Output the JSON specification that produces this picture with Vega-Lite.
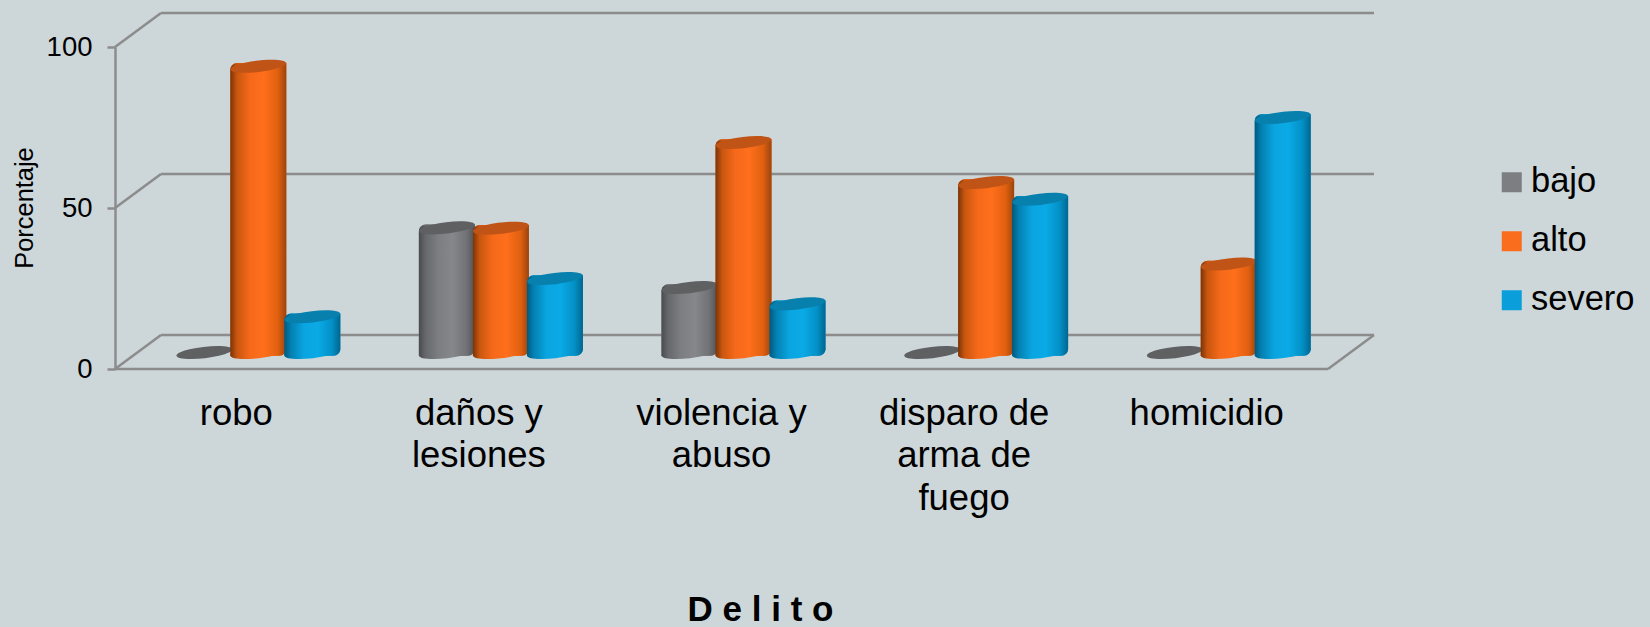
{
"$schema":"https://vega.github.io/schema/vega-lite/v6.json",
"width":1213,"height":322,"autosize":"none",
"padding":{"left":115,"top":47,"right":322,"bottom":258},
"background":"#CDD6D9",
"config":{"view":{"stroke":null},"font":"Liberation Sans"},
"datasets":{
"valores":[
{"delito":"robo","nivel":"bajo","valor":0},{"delito":"robo","nivel":"alto","valor":88.9},{"delito":"robo","nivel":"severo","valor":11.1},
{"delito":"daños y lesiones","nivel":"bajo","valor":38.7},{"delito":"daños y lesiones","nivel":"alto","valor":38.6},{"delito":"daños y lesiones","nivel":"severo","valor":23},
{"delito":"violencia y abuso","nivel":"bajo","valor":20.2},{"delito":"violencia y abuso","nivel":"alto","valor":65.2},{"delito":"violencia y abuso","nivel":"severo","valor":15.1},
{"delito":"disparo de arma de fuego","nivel":"bajo","valor":0},{"delito":"disparo de arma de fuego","nivel":"alto","valor":52.8},{"delito":"disparo de arma de fuego","nivel":"severo","valor":47.6},
{"delito":"homicidio","nivel":"bajo","valor":0},{"delito":"homicidio","nivel":"alto","valor":27.5},{"delito":"homicidio","nivel":"severo","valor":73}
],
"marcas":[{"marca":0},{"marca":50},{"marca":100}]
},
"layer":[
{"data":{"name":"valores"},"transform":[{"filter":"datum.valor>0"}],
 "mark":{"type":"bar","size":56,"yOffset":-19.8,"y2Offset":-13.2,"cornerRadiusTopLeft":7,"cornerRadiusBottomRight":7},
 "encoding":{
  "x":{"field":"delito","type":"nominal","sort":null,"scale":{"domain":["robo","daños y lesiones","violencia y abuso","disparo de arma de fuego","homicidio"],"range":[22,1235],"paddingInner":0.332,"paddingOuter":0.166},
   "axis":{"title":"D e l i t o","titleFontSize":35,"titleFontWeight":"bold","titleColor":"#000","titleX":645,"titleY":251,"titleBaseline":"alphabetic","titleAlign":"center","titleAnchor":null,
    "domain":false,"ticks":false,"labelAngle":0,"labelOffset":-22,"labelFontSize":36.5,"labelColor":"#000","labelPadding":55,"labelLineHeight":42.7,"labelBaseline":"alphabetic","labelLimit":0,"labelOverlap":false,"labelFlush":false,
    "labelExpr":"datum.label=='daños y lesiones'?['daños y','lesiones']:datum.label=='violencia y abuso'?['violencia y','abuso']:datum.label=='disparo de arma de fuego'?['disparo de','arma de','fuego']:datum.label"}},
  "xOffset":{"field":"nivel","type":"nominal","sort":null,"scale":{"domain":["bajo","alto","severo"],"paddingInner":0,"paddingOuter":0}},
  "y":{"field":"valor","type":"quantitative","stack":null,"scale":{"domain":[0,100],"nice":false},
   "axis":{"title":"Porcentaje","titleFontSize":25.4,"titleFontWeight":"normal","titleColor":"#000","titleX":-83,"titleY":160.5,"titleAngle":-90,"titleAlign":"center","titleBaseline":"alphabetic","values":[0,50,100],"grid":false,
    "domainColor":"#8C8C8C","domainWidth":2.5,"tickColor":"#8C8C8C","tickWidth":2.5,"tickSize":8,"labelFontSize":27.5,"labelColor":"#000","labelPadding":15}},
  "y2":{"datum":0},
  "color":{"field":"nivel","type":"nominal","sort":null,"scale":{"domain":["bajo","alto","severo"],"range":["#7C7E82","#F96D1C","#0A9FDB"]},
   "legend":{"title":null,"orient":"none","legendX":1379.5,"legendY":118,"symbolType":"square","symbolSize":400,"symbolStrokeWidth":0,"labelFontSize":34.5,"labelColor":"#000","labelOffset":2,"rowPadding":24,"labelLimit":0}}
 }},
{"data":{"name":"marcas"},"mark":{"type":"rule","color":"#8C8C8C","strokeWidth":2.5,"yOffset":-34},
 "encoding":{"y":{"field":"marca","type":"quantitative"},"x":{"value":46},"x2":{"value":1259}}},
{"data":{"name":"marcas"},"mark":{"type":"rule","color":"#8C8C8C","strokeWidth":2.5,"y2Offset":-34},
 "encoding":{"y":{"field":"marca","type":"quantitative"},"y2":{"field":"marca"},"x":{"value":0},"x2":{"value":46}}},
{"data":{"name":"marcas"},"transform":[{"filter":"datum.marca==0"}],"mark":{"type":"rule","color":"#8C8C8C","strokeWidth":2.5,"y2Offset":-34},
 "encoding":{"y":{"field":"marca","type":"quantitative"},"y2":{"field":"marca"},"x":{"value":1213},"x2":{"value":1259}}},
{"data":{"name":"marcas"},"transform":[{"filter":"datum.marca==0"}],"mark":{"type":"rule","color":"#8C8C8C","strokeWidth":2.5},
 "encoding":{"y":{"field":"marca","type":"quantitative"},"x":{"value":0},"x2":{"value":1213}}},
{"data":{"name":"valores"},"transform":[{"filter":"datum.nivel=='bajo'"}],
 "layer":[
  {"transform":[{"filter":"datum.valor>0"}],"mark":{"type":"point","filled":true,"opacity":1,"strokeWidth":0,"size":3136,"yOffset":-16.5,"shape":"M-0.993 0.117A1 0.2 -6.7 1 1 0.993 -0.117A1 0.2 -6.7 1 1 -0.993 0.117Z","color":{"gradient":"linear","x1":0,"x2":1,"y1":0,"y2":0,"stops":[{"offset":0,"color":"#4A4B4D"},{"offset":0.12,"color":"#67686B"},{"offset":0.35,"color":"#7C7E81"},{"offset":0.6,"color":"#85878A"},{"offset":0.85,"color":"#717275"},{"offset":1,"color":"#525355"}]}},
   "encoding":{"x":{"field":"delito","type":"nominal","sort":null},"xOffset":{"field":"nivel","type":"nominal","sort":null},"y":{"datum":0,"type":"quantitative"}}},
  {"transform":[{"filter":"datum.valor>0"}],"mark":{"type":"bar","size":56,"yOffset":-19.8,"y2Offset":-13.2,"cornerRadiusTopLeft":7,"cornerRadiusBottomRight":7,"color":{"gradient":"linear","x1":0,"x2":1,"y1":0,"y2":0,"stops":[{"offset":0,"color":"#4A4B4D"},{"offset":0.12,"color":"#67686B"},{"offset":0.35,"color":"#7C7E81"},{"offset":0.6,"color":"#85878A"},{"offset":0.85,"color":"#717275"},{"offset":1,"color":"#525355"}]}},
   "encoding":{"x":{"field":"delito","type":"nominal","sort":null},"xOffset":{"field":"nivel","type":"nominal","sort":null},"y":{"field":"valor","type":"quantitative","stack":null},"y2":{"datum":0}}},
  {"mark":{"type":"point","filled":true,"opacity":1,"strokeWidth":0,"size":3136,"yOffset":-16.5,"color":"#5F6062","shape":"M-0.993 0.117A1 0.2 -6.7 1 1 0.993 -0.117A1 0.2 -6.7 1 1 -0.993 0.117Z"},
   "encoding":{"x":{"field":"delito","type":"nominal","sort":null},"xOffset":{"field":"nivel","type":"nominal","sort":null},"y":{"field":"valor","type":"quantitative"}}}
 ]},
{"data":{"name":"valores"},"transform":[{"filter":"datum.nivel=='alto'"}],
 "layer":[
  {"mark":{"type":"point","filled":true,"opacity":1,"strokeWidth":0,"size":3136,"yOffset":-16.5,"shape":"M-0.993 0.117A1 0.2 -6.7 1 1 0.993 -0.117A1 0.2 -6.7 1 1 -0.993 0.117Z","color":{"gradient":"linear","x1":0,"x2":1,"y1":0,"y2":0,"stops":[{"offset":0,"color":"#7A3408"},{"offset":0.12,"color":"#C9560F"},{"offset":0.35,"color":"#F5691A"},{"offset":0.6,"color":"#FF6F1C"},{"offset":0.85,"color":"#E0600F"},{"offset":1,"color":"#9A440E"}]}},
   "encoding":{"x":{"field":"delito","type":"nominal","sort":null},"xOffset":{"field":"nivel","type":"nominal","sort":null},"y":{"datum":0,"type":"quantitative"}}},
  {"mark":{"type":"bar","size":56,"yOffset":-19.8,"y2Offset":-13.2,"cornerRadiusTopLeft":7,"cornerRadiusBottomRight":7,"color":{"gradient":"linear","x1":0,"x2":1,"y1":0,"y2":0,"stops":[{"offset":0,"color":"#7A3408"},{"offset":0.12,"color":"#C9560F"},{"offset":0.35,"color":"#F5691A"},{"offset":0.6,"color":"#FF6F1C"},{"offset":0.85,"color":"#E0600F"},{"offset":1,"color":"#9A440E"}]}},
   "encoding":{"x":{"field":"delito","type":"nominal","sort":null},"xOffset":{"field":"nivel","type":"nominal","sort":null},"y":{"field":"valor","type":"quantitative","stack":null},"y2":{"datum":0}}},
  {"mark":{"type":"point","filled":true,"opacity":1,"strokeWidth":0,"size":3136,"yOffset":-16.5,"color":"#C05417","shape":"M-0.993 0.117A1 0.2 -6.7 1 1 0.993 -0.117A1 0.2 -6.7 1 1 -0.993 0.117Z"},
   "encoding":{"x":{"field":"delito","type":"nominal","sort":null},"xOffset":{"field":"nivel","type":"nominal","sort":null},"y":{"field":"valor","type":"quantitative"}}}
 ]},
{"data":{"name":"valores"},"transform":[{"filter":"datum.nivel=='severo'"}],
 "layer":[
  {"mark":{"type":"point","filled":true,"opacity":1,"strokeWidth":0,"size":3136,"yOffset":-16.5,"shape":"M-0.993 0.117A1 0.2 -6.7 1 1 0.993 -0.117A1 0.2 -6.7 1 1 -0.993 0.117Z","color":{"gradient":"linear","x1":0,"x2":1,"y1":0,"y2":0,"stops":[{"offset":0,"color":"#00597F"},{"offset":0.12,"color":"#0380B2"},{"offset":0.35,"color":"#0AA5E0"},{"offset":0.6,"color":"#0AAAE6"},{"offset":0.85,"color":"#0390C6"},{"offset":1,"color":"#00668F"}]}},
   "encoding":{"x":{"field":"delito","type":"nominal","sort":null},"xOffset":{"field":"nivel","type":"nominal","sort":null},"y":{"datum":0,"type":"quantitative"}}},
  {"mark":{"type":"bar","size":56,"yOffset":-19.8,"y2Offset":-13.2,"cornerRadiusTopLeft":7,"cornerRadiusBottomRight":7,"color":{"gradient":"linear","x1":0,"x2":1,"y1":0,"y2":0,"stops":[{"offset":0,"color":"#00597F"},{"offset":0.12,"color":"#0380B2"},{"offset":0.35,"color":"#0AA5E0"},{"offset":0.6,"color":"#0AAAE6"},{"offset":0.85,"color":"#0390C6"},{"offset":1,"color":"#00668F"}]}},
   "encoding":{"x":{"field":"delito","type":"nominal","sort":null},"xOffset":{"field":"nivel","type":"nominal","sort":null},"y":{"field":"valor","type":"quantitative","stack":null},"y2":{"datum":0}}},
  {"mark":{"type":"point","filled":true,"opacity":1,"strokeWidth":0,"size":3136,"yOffset":-16.5,"color":"#0780AD","shape":"M-0.993 0.117A1 0.2 -6.7 1 1 0.993 -0.117A1 0.2 -6.7 1 1 -0.993 0.117Z"},
   "encoding":{"x":{"field":"delito","type":"nominal","sort":null},"xOffset":{"field":"nivel","type":"nominal","sort":null},"y":{"field":"valor","type":"quantitative"}}}
 ]}
]
}
